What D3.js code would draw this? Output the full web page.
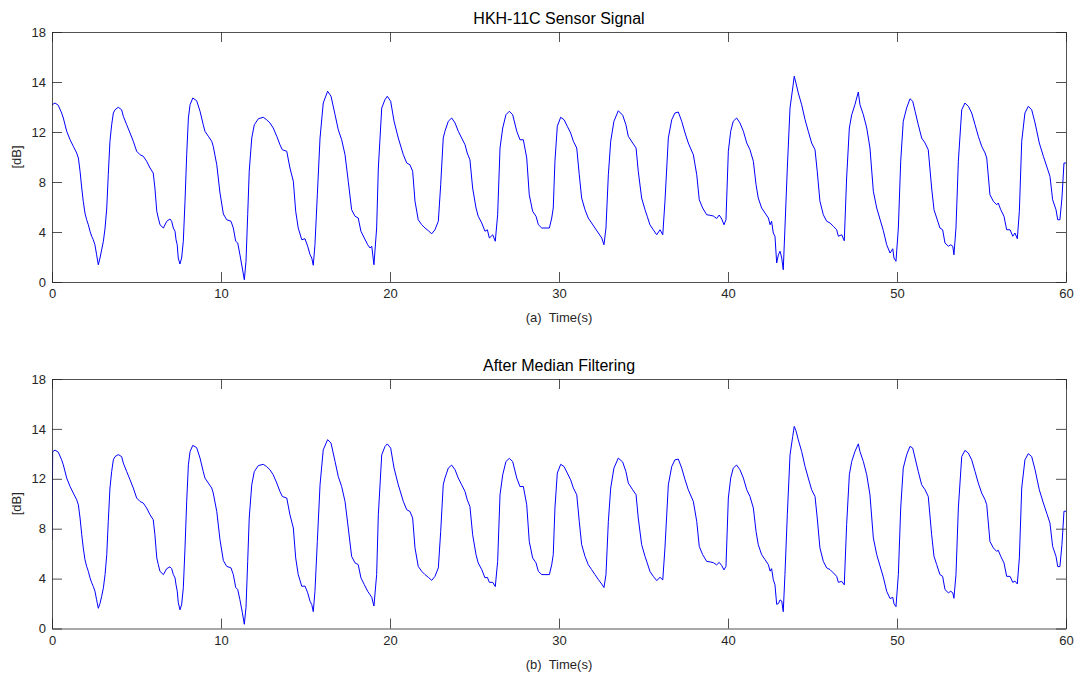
<!DOCTYPE html>
<html><head><meta charset="utf-8">
<script src="https://cdn.jsdelivr.net/npm/d3@7"></script>
<style>body{margin:0;background:#fff}svg{display:block}</style>
</head><body>
<svg id="c" width="1077" height="675"></svg>
<script>
// ---- data ----
const timeTicks = [0, 10, 20, 30, 40, 50, 60];
const yTickValues = [0, 4, 8, 12, 16, 20];
const yTickLabels = ["0", "4", "8", "12", "14", "18"];
const titles = ["HKH-11C Sensor Signal", "After Median Filtering"];
const xLabels = ["(a)  Time(s)", "(b)  Time(s)"];
const yLabel = "[dB]";

const rawSignal = [
[0.00,14.18],[0.18,14.32],[0.37,14.14],[0.57,13.52],[0.67,13.12],[0.87,12.06],[1.07,11.38],[1.26,10.86],[1.46,10.32],[1.56,9.92],
[1.66,8.86],[1.76,7.52],[1.85,6.46],[1.95,5.52],[2.05,4.98],[2.15,4.58],[2.25,4.06],[2.35,3.66],[2.44,3.38],[2.54,2.98],
[2.64,2.18],[2.74,1.38],[2.84,1.92],[2.94,2.58],[3.04,3.26],[3.14,4.32],[3.24,5.92],[3.33,8.58],[3.43,11.26],[3.53,12.58],
[3.63,13.52],[3.73,13.78],[3.92,13.98],[4.12,13.78],[4.22,13.26],[4.42,12.58],[4.62,11.92],[4.81,11.26],[5.01,10.46],[5.21,10.18],
[5.40,10.06],[5.60,9.66],[5.80,9.12],[5.99,8.72],[6.09,7.52],[6.20,5.66],[6.29,5.12],[6.39,4.58],[6.59,4.32],[6.79,4.86],
[6.98,5.04],[7.08,4.86],[7.18,4.32],[7.28,4.06],[7.34,3.38],[7.41,2.98],[7.47,1.92],[7.57,1.44],[7.67,1.92],[7.77,3.26],
[7.87,6.46],[7.97,10.18],[8.07,13.12],[8.17,14.18],[8.33,14.72],[8.56,14.50],[8.76,13.66],[8.95,12.58],[9.05,12.06],[9.25,11.66],
[9.45,11.26],[9.54,10.86],[9.75,9.38],[9.94,7.12],[10.14,5.44],[10.34,4.98],[10.59,4.86],[10.73,4.32],[10.87,3.26],[10.99,3.12],
[11.12,2.18],[11.26,1.12],[11.38,0.18],[11.48,1.66],[11.58,5.38],[11.67,8.86],[11.82,11.52],[11.97,12.58],[12.21,13.06],[12.50,13.18],
[12.70,12.98],[12.90,12.72],[13.09,12.32],[13.30,11.66],[13.49,10.98],[13.63,10.58],[13.89,10.46],[14.08,9.12],[14.28,8.06],[14.42,5.66],
[14.57,4.32],[14.78,3.38],[14.97,3.46],[15.13,2.86],[15.27,2.18],[15.37,1.92],[15.46,1.34],[15.56,2.98],[15.70,6.98],[15.86,11.52],
[16.05,14.32],[16.31,15.26],[16.51,14.86],[16.75,13.38],[16.94,12.18],[17.14,11.38],[17.34,10.18],[17.53,8.06],[17.73,5.78],[17.93,5.26],
[18.12,5.12],[18.28,4.06],[18.48,3.52],[18.68,2.98],[18.82,2.72],[18.92,2.86],[19.05,1.38],[19.21,4.32],[19.31,9.12],[19.51,13.92],
[19.70,14.58],[19.84,14.86],[20.04,14.46],[20.24,12.86],[20.49,11.52],[20.79,10.18],[20.99,9.52],[21.18,9.38],[21.34,8.86],[21.48,6.46],
[21.67,4.98],[21.88,4.58],[22.07,4.32],[22.27,4.10],[22.47,3.86],[22.66,4.18],[22.86,4.86],[23.00,7.78],[23.15,11.52],[23.25,12.06],
[23.45,12.86],[23.65,13.12],[23.85,12.72],[24.04,12.06],[24.24,11.52],[24.44,10.98],[24.57,10.32],[24.73,9.78],[24.89,7.52],[25.09,5.92],
[25.22,5.26],[25.43,4.72],[25.62,4.06],[25.76,4.18],[25.88,3.52],[26.08,3.78],[26.23,3.26],[26.37,5.38],[26.51,10.72],[26.67,12.32],
[26.86,13.38],[27.06,13.66],[27.26,13.38],[27.50,12.06],[27.69,11.38],[27.89,11.38],[28.09,9.92],[28.24,6.98],[28.44,5.66],[28.64,5.26],
[28.78,4.58],[28.98,4.32],[29.17,4.32],[29.43,4.32],[29.57,5.12],[29.66,5.92],[29.76,9.66],[29.90,12.46],[30.10,13.18],[30.30,12.98],
[30.49,12.46],[30.69,11.92],[30.85,11.26],[31.05,10.72],[31.20,8.58],[31.34,6.72],[31.54,5.78],[31.73,5.12],[31.93,4.72],[32.13,4.32],
[32.33,3.92],[32.53,3.52],[32.66,2.98],[32.78,4.32],[32.92,8.58],[33.06,11.26],[33.25,12.86],[33.51,13.70],[33.77,13.34],[33.96,12.58],
[34.10,11.66],[34.36,11.12],[34.56,10.72],[34.69,8.86],[34.89,6.72],[35.09,5.78],[35.22,5.26],[35.38,4.58],[35.58,4.18],[35.78,3.78],
[35.98,4.18],[36.14,3.78],[36.27,6.46],[36.47,11.52],[36.67,12.98],[36.86,13.52],[37.06,13.60],[37.26,12.86],[37.46,11.92],[37.65,11.12],
[37.95,10.18],[38.15,8.58],[38.30,6.58],[38.50,5.92],[38.74,5.38],[38.93,5.34],[39.13,5.28],[39.33,5.08],[39.48,5.36],[39.63,5.04],
[39.76,4.58],[39.88,4.98],[40.02,10.46],[40.16,12.06],[40.31,12.86],[40.51,13.12],[40.71,12.72],[40.91,12.06],[41.11,11.12],[41.30,10.58],
[41.50,9.66],[41.66,7.78],[41.79,6.72],[41.99,5.92],[42.19,5.52],[42.39,5.12],[42.49,4.58],[42.58,4.86],[42.68,3.92],[42.78,3.66],
[42.88,1.52],[42.98,2.18],[43.08,2.46],[43.18,1.92],[43.27,0.98],[43.37,4.32],[43.51,9.12],[43.67,13.92],[43.83,15.52],[43.92,16.46],
[44.02,15.92],[44.16,15.12],[44.36,14.18],[44.56,12.98],[44.75,12.06],[44.95,11.12],[45.15,10.58],[45.28,8.86],[45.44,6.46],[45.64,5.38],
[45.84,4.86],[46.04,4.72],[46.23,4.46],[46.43,4.18],[46.53,3.66],[46.73,3.78],[46.88,3.30],[47.02,8.32],[47.18,12.32],[47.32,13.38],
[47.51,14.18],[47.71,15.20],[47.81,14.18],[48.01,13.38],[48.21,12.32],[48.40,10.72],[48.60,7.26],[48.80,5.92],[48.99,5.04],[49.19,4.12],
[49.39,2.98],[49.59,2.32],[49.75,2.66],[49.82,1.92],[49.94,1.66],[50.08,4.32],[50.22,9.66],[50.37,12.86],[50.57,13.92],[50.77,14.66],
[50.93,14.46],[51.07,13.66],[51.26,12.58],[51.46,11.52],[51.66,11.12],[51.85,10.58],[52.05,7.52],[52.19,5.78],[52.35,5.12],[52.54,4.32],
[52.70,4.18],[52.84,3.12],[53.04,2.86],[53.18,2.98],[53.30,2.86],[53.37,2.18],[53.49,4.32],[53.63,9.66],[53.83,13.78],[54.02,14.32],
[54.22,14.06],[54.42,13.52],[54.62,12.58],[54.81,11.66],[55.01,10.86],[55.21,10.32],[55.31,9.92],[55.50,6.98],[55.70,6.46],[55.90,6.18],
[55.99,6.32],[56.14,5.78],[56.33,5.26],[56.49,4.18],[56.69,4.18],[56.85,3.66],[56.98,3.92],[57.12,3.46],[57.24,5.66],[57.38,11.26],
[57.57,13.52],[57.77,14.06],[57.97,13.78],[58.17,12.72],[58.42,11.12],[58.66,10.06],[58.89,9.12],[59.05,8.46],[59.21,6.58],[59.41,5.78],
[59.51,4.98],[59.64,4.98],[59.76,6.72],[59.88,9.52],[60.00,9.52]
];

const filteredSignal = [
[0.00,7.10],[0.04,14.18],[0.18,14.30],[0.37,14.14],[0.57,13.52],[0.67,13.12],[0.87,12.06],[1.07,11.38],[1.26,10.86],[1.46,10.32],[1.56,9.92],
[1.66,8.86],[1.76,7.52],[1.85,6.46],[1.95,5.52],[2.05,4.98],[2.15,4.58],[2.25,4.06],[2.35,3.66],[2.44,3.38],[2.54,3.00],
[2.64,2.30],[2.74,1.62],[2.84,2.00],[2.94,2.58],[3.04,3.26],[3.14,4.32],[3.24,5.92],[3.33,8.58],[3.43,11.26],[3.53,12.58],
[3.63,13.52],[3.73,13.78],[3.92,13.94],[4.12,13.78],[4.22,13.26],[4.42,12.58],[4.62,11.92],[4.81,11.26],[5.01,10.46],[5.21,10.18],
[5.40,10.06],[5.60,9.66],[5.80,9.12],[5.99,8.72],[6.09,7.52],[6.20,5.66],[6.29,5.12],[6.39,4.58],[6.59,4.32],[6.79,4.80],
[6.98,4.94],[7.08,4.80],[7.18,4.32],[7.28,4.06],[7.34,3.50],[7.41,3.00],[7.47,2.10],[7.57,1.50],[7.67,1.90],[7.77,3.26],
[7.87,6.46],[7.97,10.18],[8.07,13.12],[8.17,14.18],[8.33,14.68],[8.56,14.50],[8.76,13.66],[8.95,12.58],[9.05,12.06],[9.25,11.66],
[9.45,11.26],[9.54,10.86],[9.75,9.38],[9.94,7.12],[10.14,5.44],[10.34,4.98],[10.59,4.86],[10.73,4.32],[10.87,3.30],[10.99,3.12],
[11.12,2.30],[11.26,1.30],[11.38,0.34],[11.48,1.70],[11.58,5.38],[11.67,8.86],[11.82,11.52],[11.97,12.58],[12.21,13.06],[12.50,13.16],
[12.70,12.98],[12.90,12.72],[13.09,12.32],[13.30,11.66],[13.49,10.98],[13.63,10.58],[13.89,10.46],[14.08,9.12],[14.28,8.06],[14.42,5.66],
[14.57,4.32],[14.78,3.38],[14.97,3.40],[15.13,2.86],[15.27,2.18],[15.37,1.92],[15.46,1.35],[15.56,2.98],[15.70,6.98],[15.86,11.52],
[16.05,14.32],[16.31,15.14],[16.51,14.86],[16.75,13.38],[16.94,12.18],[17.14,11.38],[17.34,10.18],[17.53,8.06],[17.73,5.78],[17.93,5.26],
[18.12,5.12],[18.28,4.06],[18.48,3.52],[18.68,2.98],[18.82,2.70],[18.92,2.50],[19.05,1.80],[19.21,4.32],[19.31,9.12],[19.51,13.92],
[19.70,14.58],[19.84,14.80],[20.04,14.46],[20.24,12.86],[20.49,11.52],[20.79,10.18],[20.99,9.52],[21.18,9.38],[21.34,8.86],[21.48,6.46],
[21.67,4.98],[21.88,4.58],[22.07,4.32],[22.27,4.10],[22.47,3.86],[22.66,4.18],[22.86,4.86],[23.00,7.78],[23.15,11.52],[23.25,12.06],
[23.45,12.86],[23.65,13.10],[23.85,12.72],[24.04,12.06],[24.24,11.52],[24.44,10.98],[24.57,10.32],[24.73,9.78],[24.89,7.52],[25.09,5.92],
[25.22,5.26],[25.43,4.72],[25.62,4.06],[25.76,4.10],[25.88,3.70],[26.08,3.70],[26.23,3.36],[26.37,5.38],[26.51,10.72],[26.67,12.32],
[26.86,13.38],[27.06,13.64],[27.26,13.38],[27.50,12.06],[27.69,11.38],[27.89,11.38],[28.09,9.92],[28.24,6.98],[28.44,5.66],[28.64,5.26],
[28.78,4.58],[28.98,4.32],[29.17,4.32],[29.43,4.32],[29.57,5.12],[29.66,5.92],[29.76,9.66],[29.90,12.46],[30.10,13.16],[30.30,12.98],
[30.49,12.46],[30.69,11.92],[30.85,11.26],[31.05,10.72],[31.20,8.58],[31.34,6.72],[31.54,5.78],[31.73,5.12],[31.93,4.72],[32.13,4.32],
[32.33,3.92],[32.53,3.56],[32.66,3.28],[32.78,4.32],[32.92,8.58],[33.06,11.26],[33.25,12.86],[33.51,13.66],[33.77,13.34],[33.96,12.58],
[34.10,11.66],[34.36,11.12],[34.56,10.72],[34.69,8.86],[34.89,6.72],[35.09,5.78],[35.22,5.26],[35.38,4.58],[35.58,4.18],[35.78,3.84],
[35.98,4.10],[36.14,3.90],[36.27,6.46],[36.47,11.52],[36.67,12.98],[36.86,13.52],[37.06,13.58],[37.26,12.86],[37.46,11.92],[37.65,11.12],
[37.95,10.18],[38.15,8.58],[38.30,6.58],[38.50,5.92],[38.74,5.38],[38.93,5.34],[39.13,5.28],[39.33,5.10],[39.48,5.30],[39.63,5.04],
[39.76,4.70],[39.88,4.98],[40.02,10.46],[40.16,12.06],[40.31,12.86],[40.51,13.10],[40.71,12.72],[40.91,12.06],[41.11,11.12],[41.30,10.58],
[41.50,9.66],[41.66,7.78],[41.79,6.72],[41.99,5.92],[42.19,5.52],[42.39,5.12],[42.49,4.60],[42.58,4.80],[42.68,3.92],[42.78,3.50],
[42.88,1.94],[42.98,2.00],[43.08,2.29],[43.18,2.20],[43.27,1.35],[43.37,4.32],[43.51,9.12],[43.67,13.92],[43.83,15.40],[43.92,16.20],
[44.02,15.86],[44.16,15.12],[44.36,14.18],[44.56,12.98],[44.75,12.06],[44.95,11.12],[45.15,10.58],[45.28,8.86],[45.44,6.46],[45.64,5.38],
[45.84,4.86],[46.04,4.72],[46.23,4.46],[46.43,4.18],[46.53,3.70],[46.73,3.78],[46.88,3.50],[47.02,8.32],[47.18,12.32],[47.32,13.38],
[47.51,14.18],[47.71,14.80],[47.81,14.18],[48.01,13.38],[48.21,12.32],[48.40,10.72],[48.60,7.26],[48.80,5.92],[48.99,5.04],[49.19,4.12],
[49.39,2.98],[49.59,2.40],[49.75,2.50],[49.82,2.00],[49.94,1.75],[50.08,4.32],[50.22,9.66],[50.37,12.86],[50.57,13.92],[50.77,14.60],
[50.93,14.46],[51.07,13.66],[51.26,12.58],[51.46,11.52],[51.66,11.12],[51.85,10.58],[52.05,7.52],[52.19,5.78],[52.35,5.12],[52.54,4.32],
[52.70,4.18],[52.84,3.12],[53.04,2.86],[53.18,2.98],[53.30,2.86],[53.37,2.42],[53.49,4.32],[53.63,9.66],[53.83,13.78],[54.02,14.28],
[54.22,14.06],[54.42,13.52],[54.62,12.58],[54.81,11.66],[55.01,10.86],[55.21,10.32],[55.31,9.92],[55.50,6.98],[55.70,6.46],[55.90,6.18],
[55.99,6.28],[56.14,5.78],[56.33,5.26],[56.49,4.18],[56.69,4.18],[56.85,3.70],[56.98,3.80],[57.12,3.57],[57.24,5.66],[57.38,11.26],
[57.57,13.52],[57.77,14.02],[57.97,13.78],[58.17,12.72],[58.42,11.12],[58.66,10.06],[58.89,9.12],[59.05,8.46],[59.21,6.58],[59.41,5.78],
[59.51,4.96],[59.64,4.96],[59.76,6.72],[59.88,9.40],[60.00,9.40]
];

// ---- drawing ----
const svg = d3.select("#c");
const left = 52, right = 1066;
const panels = [
  {top: 32, bottom: 282, data: rawSignal, title: titles[0], xl: xLabels[0]},
  {top: 379, bottom: 628.5, data: filteredSignal, title: titles[1], xl: xLabels[1]}
];
const font = "'Liberation Sans', Arial, Helvetica, sans-serif";
const axisColor = "#262626";

panels.forEach((p, i) => {
  const x = d3.scaleLinear().domain([0, 60]).range([left, right]);
  const y = d3.scaleLinear().domain([0, 20]).range([p.bottom, p.top]);
  const g = svg.append("g");

  const clipId = "clip" + i;
  svg.append("clipPath").attr("id", clipId).append("rect")
    .attr("x", left).attr("y", p.top).attr("width", right - left).attr("height", p.bottom - p.top);

  const line = d3.line().x(d => x(d[0])).y(d => y(d[1]));
  g.append("path").datum(p.data)
    .attr("clip-path", `url(#${clipId})`)
    .attr("fill", "none").attr("stroke", "#0000ff").attr("stroke-width", 1)
    .attr("stroke-linejoin", "round")
    .attr("d", line);

  const tickLen = 10;
  const xb = d3.axisBottom(x).tickValues(timeTicks).tickSizeInner(-tickLen).tickSizeOuter(0).tickPadding(7).tickFormat(d3.format("d"));
  const xt = d3.axisTop(x).tickValues(timeTicks).tickSizeInner(-tickLen).tickSizeOuter(0).tickFormat("");
  const yl = d3.axisLeft(y).tickValues(yTickValues).tickSizeInner(-tickLen).tickSizeOuter(0).tickPadding(6)
    .tickFormat((d, k) => yTickLabels[k]);
  const yr = d3.axisRight(y).tickValues(yTickValues).tickSizeInner(-tickLen).tickSizeOuter(0).tickFormat("");

  const axes = [
    g.append("g").attr("transform", `translate(0,${p.bottom})`).call(xb),
    g.append("g").attr("transform", `translate(0,${p.top})`).call(xt),
    g.append("g").attr("transform", `translate(${left},0)`).call(yl),
    g.append("g").attr("transform", `translate(${right},0)`).call(yr)
  ];
  axes.forEach(a => {
    a.select(".domain").attr("stroke", axisColor).attr("stroke-width", 0.8);
    a.selectAll(".tick line").attr("stroke", axisColor).attr("stroke-width", 0.8);
    a.selectAll(".tick text").attr("fill", axisColor).style("font-family", font).style("font-size", "13px");
  });

  svg.append("text").attr("x", (left + right) / 2).attr("y", p.top - 8)
    .attr("text-anchor", "middle").style("font-family", font).style("font-size", "16px")
    .attr("fill", "#000").text(p.title);
  svg.append("text").attr("x", (left + right) / 2).attr("y", p.bottom + 40)
    .attr("text-anchor", "middle").style("font-family", font).style("font-size", "13px")
    .style("white-space", "pre").attr("xml:space", "preserve")
    .attr("fill", axisColor).text(p.xl);
  svg.append("text").attr("transform", `translate(${21},${(p.top + p.bottom) / 2}) rotate(-90)`)
    .attr("text-anchor", "middle").style("font-family", font).style("font-size", "13px")
    .attr("fill", axisColor).text(yLabel);
});
</script>
</body></html>
